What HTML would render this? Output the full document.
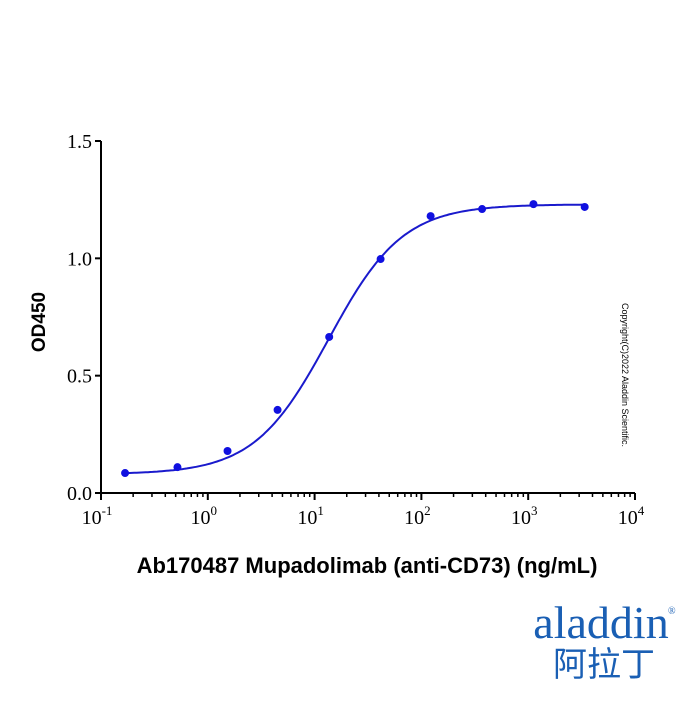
<!DOCTYPE html>
<html><head><meta charset="utf-8"><style>
body{margin:0;background:#fff;}
svg text{font-family:"Liberation Serif",serif;}
</style></head><body>
<svg width="700" height="700" viewBox="0 0 700 700" xmlns="http://www.w3.org/2000/svg">
<g id="axes"></g>
<g id="marks"></g>
<text x="45" y="322" transform="rotate(-90 45 322)" text-anchor="middle" font-weight="bold" font-size="19" style="font-family:'Liberation Sans',sans-serif">OD450</text>
<text x="367" y="573" text-anchor="middle" font-weight="bold" font-size="22" style="font-family:'Liberation Sans',sans-serif">Ab170487 Mupadolimab (anti-CD73) (ng/mL)</text>
<text x="622" y="375" transform="rotate(90 622 375)" text-anchor="middle" font-size="9" style="font-family:'Liberation Sans',sans-serif">Copyright(C)2022 Aladdin Scientific.</text>
<text x="601" y="638" text-anchor="middle" font-size="46" fill="#1a5fb4" style="font-family:'Liberation Serif',serif">aladdin</text>
<text x="668" y="614" font-size="10" fill="#1a5fb4">®</text>
<text x="604" y="676" text-anchor="middle" font-size="34" fill="#1a5fb4" style="font-family:'Liberation Sans','Noto Sans CJK SC',sans-serif">阿拉丁</text>
<script>
const xs=[0.168,0.52,1.53,4.5,13.7,41.5,122,370,1120,3380];
const ys=[0.085,0.11,0.179,0.354,0.665,0.997,1.18,1.21,1.231,1.219];
const fitBottom=0.08, fitTop=1.23, fitEC50=13.5, fitHill=1.25;
const yTicks=[0,0.5,1.0,1.5];
const yTickLabels=["0.0","0.5","1.0","1.5"];
const xDecades=[-1,0,1,2,3,4];
const NS="http://www.w3.org/2000/svg";
const X0=101,X1=635,Y0=493,Y1=141;
const xs_=v=>X0+(Math.log10(v)+1)/5*(X1-X0);
const ys_=v=>Y0-v/1.5*(Y0-Y1);
const ax=document.getElementById('axes'),mk=document.getElementById('marks');
function el(t,a,p){const e=document.createElementNS(NS,t);for(const k in a)e.setAttribute(k,a[k]);p.appendChild(e);return e;}
let l=el('line',{x1:X0,y1:Y0,x2:X1,y2:Y0,stroke:'#000','stroke-width':2},ax);


l=el('line',{x1:X0,y1:Y0+1,x2:X0,y2:Y1,stroke:'#000','stroke-width':2},ax);


yTicks.forEach((v,i)=>{const y=ys_(v);
 el('line',{x1:X0-6,y1:y,x2:X0,y2:y,stroke:'#000','stroke-width':2},ax);
 const t=el('text',{x:X0-9,y:y+7,'text-anchor':'end','font-size':20},ax);t.textContent=yTickLabels[i];
 
 });
xDecades.forEach(d=>{const x=xs_(Math.pow(10,d));
 el('line',{x1:x,y1:Y0,x2:x,y2:Y0+7,stroke:'#000','stroke-width':2},ax);
 if(d<4)for(let m=2;m<10;m++){const xm=xs_(m*Math.pow(10,d));el('line',{x1:xm,y1:Y0,x2:xm,y2:Y0+4,stroke:'#000','stroke-width':1.5},ax);}
 const t=el('text',{x:x-4,y:Y0+31,'text-anchor':'middle','font-size':20},ax);
 const b=el('tspan',{},t);b.textContent='10';
 const s=el('tspan',{'font-size':13,dy:-9},t);s.textContent=String(d);
 
 });
let d='';for(let i=0;i<=200;i++){const lv=Math.log10(0.168)+i/200*(Math.log10(3380)-Math.log10(0.168));const v=Math.pow(10,lv);
 const y=fitBottom+(fitTop-fitBottom)/(1+Math.pow(fitEC50/v,fitHill));d+=(i?'L':'M')+xs_(v).toFixed(1)+','+ys_(y).toFixed(1);}
const p=el('path',{d:d,fill:'none',stroke:'#1a1acc','stroke-width':2},mk);


xs.forEach((x,i)=>{const c=el('circle',{cx:xs_(x),cy:ys_(ys[i]),r:4,fill:'#1010e0'},mk);
 
 });
</script>
</svg>
</body></html>
